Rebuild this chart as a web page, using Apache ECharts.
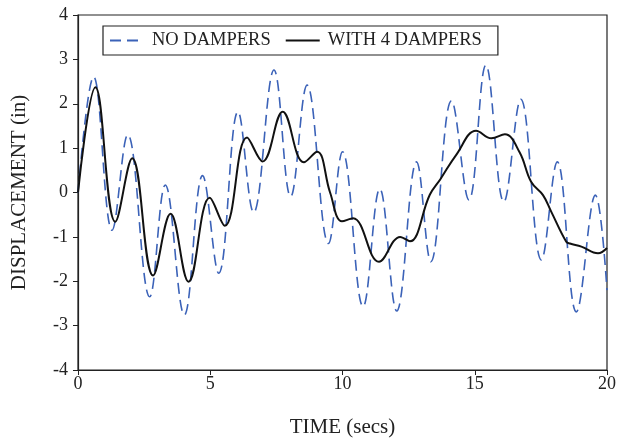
<!DOCTYPE html>
<html>
<head>
<meta charset="utf-8">
<script src="https://cdn.jsdelivr.net/npm/echarts@6/dist/echarts.min.js"></script>
<style>html,body{margin:0;padding:0;background:#fff;}#chart{width:619px;height:439px;}</style>
</head>
<body>
<div id="chart"></div>
<script>
var seriesNames = ['NO DAMPERS', 'WITH 4 DAMPERS'];
var xTicks = [0, 5, 10, 15, 20];
var yTicks = [-4, -3, -2, -1, 0, 1, 2, 3, 4];

var timeNoDampers = [0, 0.59, 1.29, 1.88, 2.71, 3.30, 4.02, 4.71, 5.32, 6.05, 6.64, 7.41, 8.04, 8.66, 9.47, 10.00, 10.78, 11.41, 12.05, 12.80, 13.34, 14.12, 14.78, 15.42, 16.10, 16.74, 17.52, 18.12, 18.84, 19.56, 20.0];
var dispNoDampers = [0, 2.61, -0.85, 1.30, -2.35, 0.17, -2.76, 0.38, -1.82, 1.82, -0.45, 2.76, -0.09, 2.42, -1.15, 0.92, -2.57, 0.08, -2.67, 0.69, -1.56, 2.07, -0.17, 2.87, -0.21, 2.10, -1.52, 0.69, -2.69, -0.06, -2.2];

var timeWithDampers = [0, 0.66, 1.41, 2.05, 2.84, 3.50, 4.18, 4.98, 5.55, 6.39, 6.98, 7.74, 8.54, 9.04, 9.53, 9.98, 10.40, 11.38, 12.18, 12.55, 13.30, 13.70, 14.30, 15.05, 15.63, 16.14, 16.70, 17.13, 17.58, 17.89, 18.46, 18.60, 19.03, 19.66, 20.0];
var dispWithDampers = [0, 2.37, -0.66, 0.77, -1.87, -0.48, -2.01, -0.12, -0.75, 1.24, 0.70, 1.82, 0.68, 0.92, 0.00, -0.65, -0.58, -1.56, -1.00, -1.10, -0.05, 0.30, 0.85, 1.39, 1.22, 1.31, 0.90, 0.24, -0.06, -0.43, -1.11, -1.15, -1.22, -1.37, -1.25];

function pairs(xs, ys) { return xs.map(function (x, i) { return [x, ys[i]]; }); }

var serif = 'Liberation Serif';
var chart = echarts.init(document.getElementById('chart'), null, {renderer: 'canvas'});
chart.setOption({
  animation: false,
  backgroundColor: '#fff',
  grid: {left: 78, right: 12, top: 15, bottom: 69, containLabel: false, outerBoundsMode: 'none',
         show: true, borderColor: '#222', borderWidth: 1.2, backgroundColor: 'transparent'},
  legend: {
    data: seriesNames,
    left: 103, top: 26,
    padding: [5, 16, 5, 6],
    itemWidth: 34, itemHeight: 14, itemGap: 14,
    borderColor: '#222', borderWidth: 1.2, backgroundColor: '#fff',
    itemStyle: {color: 'rgba(0,0,0,0)', borderColor: 'rgba(0,0,0,0)', borderWidth: 0},
    textStyle: {fontFamily: serif, fontSize: 18.5, color: '#222', padding: [0, 0, 0, 3]}
  },
  xAxis: {
    type: 'value', min: xTicks[0], max: xTicks[xTicks.length - 1], interval: 5,
    name: 'TIME (secs)', nameLocation: 'middle', nameGap: 47,
    nameTextStyle: {fontFamily: serif, fontSize: 21, color: '#222'},
    axisLine: {onZero: false, lineStyle: {color: '#222', width: 1.2}},
    axisTick: {show: true, inside: false, length: 5, lineStyle: {color: '#222'}},
    axisLabel: {fontFamily: serif, fontSize: 18, color: '#222', margin: 5},
    splitLine: {show: false}
  },
  yAxis: {
    type: 'value', min: yTicks[0], max: yTicks[yTicks.length - 1], interval: 1,
    name: 'DISPLACEMENT (in)', nameLocation: 'middle', nameGap: 48,
    nameTextStyle: {fontFamily: serif, fontSize: 21, color: '#222'},
    axisLine: {show: true, onZero: false, lineStyle: {color: '#222', width: 1.2}},
    axisTick: {show: true, inside: false, length: 5, lineStyle: {color: '#222'}},
    axisLabel: {fontFamily: serif, fontSize: 18, color: '#222', margin: 10},
    splitLine: {show: false}
  },
  series: [
    {
      name: seriesNames[0], type: 'line', data: pairs(timeNoDampers, dispNoDampers),
      smooth: 0.4, symbol: 'none',
      lineStyle: {color: '#3b62b8', width: 1.6, type: [11, 6]},
      itemStyle: {color: '#3b62b8'}
    },
    {
      name: seriesNames[1], type: 'line', data: pairs(timeWithDampers, dispWithDampers),
      smooth: 0.4, symbol: 'none',
      lineStyle: {color: '#111', width: 2},
      itemStyle: {color: '#111'}
    }
  ]
});
</script>
</body>
</html>
